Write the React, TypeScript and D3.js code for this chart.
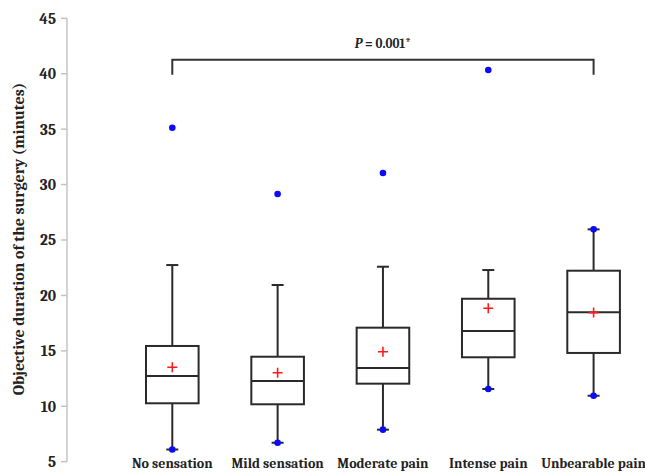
import React from "react";
import * as d3 from "d3";

const categories = ["No sensation", "Mild sensation", "Moderate pain", "Intense pain", "Unbearable pain"];
const whiskerLow = [6.1, 6.71, 7.89, 11.56, 10.95];
const q1 = [10.27, 10.18, 12.04, 14.42, 14.81];
const median = [12.73, 12.28, 13.45, 16.79, 18.48];
const q3 = [15.44, 14.47, 17.09, 19.7, 22.23];
const whiskerHigh = [22.74, 20.94, 22.59, 22.29, 25.96];
const means = [13.52, 13.03, 14.92, 18.84, 18.45];
const extremePoints = [[6.1, 35.13], [6.71, 29.15], [7.89, 31.04], [11.56, 40.34], [10.95, 25.96]];
const yTicks = [5, 10, 15, 20, 25, 30, 35, 40, 45];
const bracketFrom = 0;
const bracketTo = 4;
const bracketTop = 41.25;
const bracketBottom = 39.9;
const pLabel = "P";
const pRest = " = 0.001*";
const yTitle = "Objective duration of the surgery (minutes)";

const W = 645;
const H = 472;
const FONT = "Cambria, 'Liberation Serif', 'DejaVu Serif', serif";

export default function App() {
  const y = d3.scaleLinear().domain([5, 45]).range([461.7, 18.3]);
  const x = d3.scalePoint<string>().domain(categories).range([172.3, 593.6]);
  const axisX = 67;
  const boxHalf = 26.3;
  const capHalf = 6;
  const stroke = "#2a2a2a";

  return (
    <svg width={W} height={H} style={{ position: "absolute", left: 0, top: 0, background: "#fff" }}>
      {/* y axis */}
      <line x1={axisX} x2={axisX} y1={y(45)} y2={y(5)} stroke="#c4c4c4" strokeWidth={1.5} />
      {yTicks.map((t) => (
        <g key={t}>
          <line x1={axisX - 6} x2={axisX} y1={y(t)} y2={y(t)} stroke="#c4c4c4" strokeWidth={1.5} />
          <text x={56} y={y(t)} dy="0.35em" textAnchor="end" fontFamily={FONT} fontWeight="bold" fontSize={15.5} fill="#222">
            {t}
          </text>
        </g>
      ))}
      <text
        transform={`translate(24,239) rotate(-90)`}
        textAnchor="middle"
        fontFamily={FONT}
        fontWeight="bold"
        fontSize={16}
        fill="#222"
      >
        {yTitle}
      </text>

      {/* bracket */}
      <path
        d={`M${x(categories[bracketFrom])},${y(bracketBottom)}V${y(bracketTop)}H${x(categories[bracketTo])}V${y(bracketBottom)}`}
        fill="none"
        stroke="#333"
        strokeWidth={2}
      />
      <text
        x={((x(categories[bracketFrom]) as number) + (x(categories[bracketTo]) as number)) / 2}
        y={y(bracketTop) - 12}
        textAnchor="middle"
        fontFamily={FONT}
        fontWeight="bold"
        fontSize={13}
        fill="#222"
      >
        <tspan fontStyle="italic">{pLabel}</tspan>
        {pRest}
      </text>

      {categories.map((c, i) => {
        const cx = x(c) as number;
        return (
          <g key={c}>
            <line x1={cx} x2={cx} y1={y(q3[i])} y2={y(whiskerHigh[i])} stroke={stroke} strokeWidth={2} />
            <line x1={cx} x2={cx} y1={y(q1[i])} y2={y(whiskerLow[i])} stroke={stroke} strokeWidth={2} />
            <line x1={cx - capHalf} x2={cx + capHalf} y1={y(whiskerHigh[i])} y2={y(whiskerHigh[i])} stroke={stroke} strokeWidth={2} />
            <line x1={cx - capHalf} x2={cx + capHalf} y1={y(whiskerLow[i])} y2={y(whiskerLow[i])} stroke={stroke} strokeWidth={2} />
            <rect
              x={cx - boxHalf}
              y={y(q3[i])}
              width={boxHalf * 2}
              height={y(q1[i]) - y(q3[i])}
              fill="#fff"
              stroke={stroke}
              strokeWidth={2}
            />
            <line x1={cx - boxHalf} x2={cx + boxHalf} y1={y(median[i])} y2={y(median[i])} stroke={stroke} strokeWidth={2} />
            <path
              d={`M${cx - 5},${y(means[i])}H${cx + 5}M${cx},${y(means[i]) - 5}V${y(means[i]) + 5}`}
              stroke="#ff1a1a"
              strokeWidth={1.6}
              fill="none"
            />
            {extremePoints[i].map((v, j) => (
              <circle key={j} cx={cx} cy={y(v)} r={3.3} fill="#0a0aff" />
            ))}
            <text x={cx} y={467.5} textAnchor="middle" fontFamily={FONT} fontWeight="bold" fontSize={14} fill="#222">
              {c}
            </text>
          </g>
        );
      })}
    </svg>
  );
}
